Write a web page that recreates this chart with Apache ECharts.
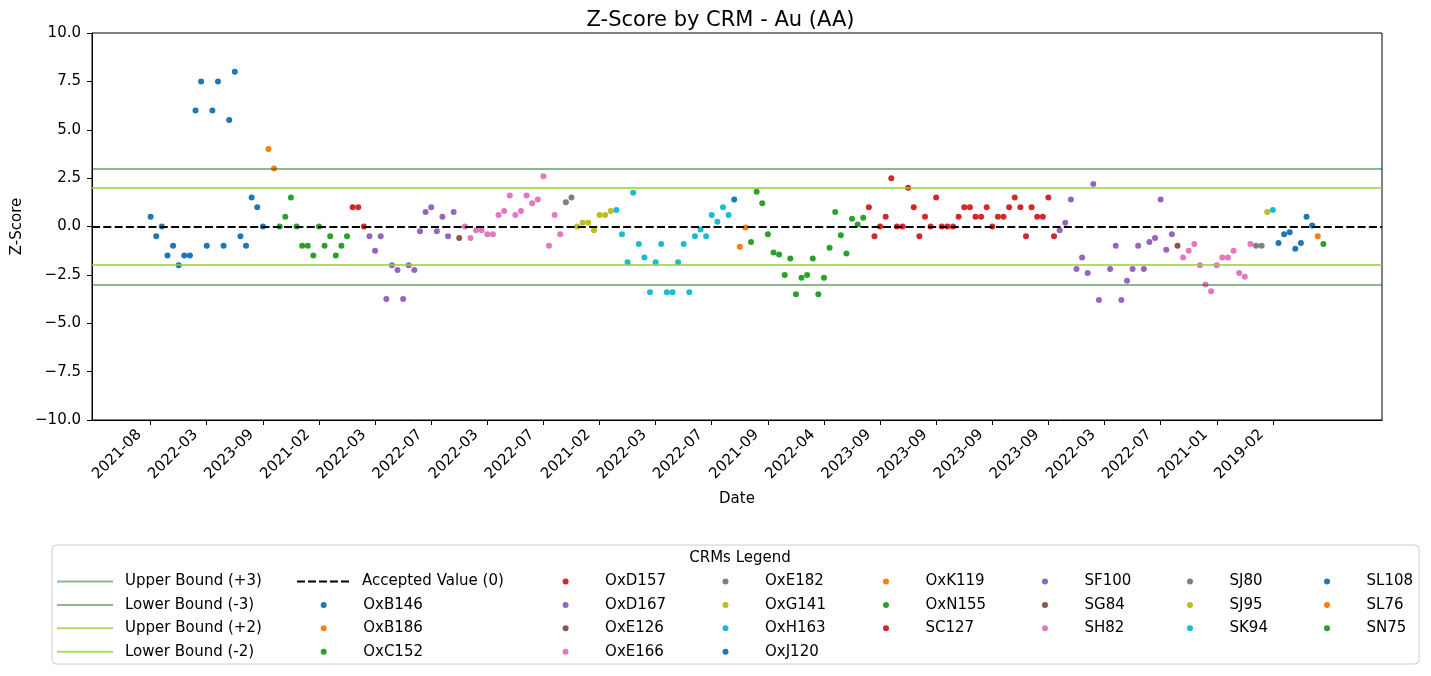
<!DOCTYPE html>
<html><head><meta charset="utf-8">
<script src="https://cdn.jsdelivr.net/npm/echarts@6/dist/echarts.min.js"></script>
<style>html,body{margin:0;padding:0;background:#fff}#c{width:1431px;height:676px}</style>
</head><body><div id="c"></div>
<script>
// ---- data ----
const crmNames = ['OxB146','OxB186','OxC152','OxD157','OxD167','OxE126','OxE166','OxE182','OxG141','OxH163',
  'OxJ120','OxK119','OxN155','SC127','SF100','SG84','SH82','SJ80','SJ95','SK94','SL108','SL76','SN75'];
const crmCounts = [21,2,13,3,16,1,18,2,7,21,1,2,21,34,21,1,13,2,1,1,7,1,1];
const zScores = [
  // OxB146
  0.5,-0.5,0,-1.5,-1.0,-2.0,-1.5,-1.5,6.0,7.5,-1.0,6.0,7.5,-1.0,5.5,8.0,-0.5,-1.0,1.5,1.0,0,
  // OxB186
  4.0,3.0,
  // OxC152
  0,0.5,1.5,0,-1.0,-1.0,-1.5,0,-1.0,-0.5,-1.5,-1.0,-0.5,
  // OxD157
  1.0,1.0,0,
  // OxD167
  -0.5,-1.25,-0.5,-3.75,-2.0,-2.25,-3.75,-2.0,-2.25,-0.25,0.75,1.0,-0.25,0.5,-0.5,0.75,
  // OxE126
  -0.6,
  // OxE166
  0,-0.6,-0.2,-0.2,-0.4,-0.4,0.6,0.8,1.6,0.6,0.8,1.6,1.2,1.4,2.6,-1.0,0.6,-0.4,
  // OxE182
  1.25,1.5,
  // OxG141
  0,0.2,0.2,-0.2,0.6,0.6,0.8,
  // OxH163
  0.85,-0.4,-1.85,1.75,-0.9,-1.6,-3.4,-1.85,-0.9,-3.4,-3.4,-1.85,-0.9,-3.4,-0.5,-0.15,-0.5,0.6,0.25,1.0,0.6,
  // OxJ120
  1.4,
  // OxK119
  -1.05,-0.05,
  // OxN155
  -0.8,1.8,1.2,-0.4,-1.35,-1.45,-2.5,-1.65,-3.5,-2.65,-2.5,-1.65,-3.5,-2.65,-1.1,0.75,-0.45,-1.4,0.4,0.1,0.45,
  // SC127
  1.0,-0.5,0,0.5,2.5,0,0,2.0,1.0,-0.5,0.5,0,1.5,0,0,0,0.5,1.0,1.0,0.5,0.5,1.0,0,0.5,0.5,1.0,1.5,1.0,-0.5,1.0,0.5,0.5,1.5,-0.5,
  // SF100
  -0.2,0.2,1.4,-2.2,-1.6,-2.4,2.2,-3.8,null,-2.2,-1.0,-3.8,-2.8,-2.2,-1.0,-2.2,-0.8,-0.6,1.4,-1.2,-0.4,
  // SG84
  -1.0,
  // SH82
  -1.6,-1.25,-0.9,-2.0,-3.0,-3.35,-2.0,-1.6,-1.6,-1.25,-2.4,-2.6,-0.9,
  // SJ80
  -1.0,-1.0,
  // SJ95
  0.75,
  // SK94
  0.85,
  // SL108
  -0.85,-0.4,-0.3,-1.15,-0.85,0.5,0.05,
  // SL76
  -0.5,
  // SN75
  -0.9
];
const tickLabels = ['2021-08','2022-03','2023-09','2021-02','2022-03','2022-07','2022-03','2022-07','2021-02','2022-03',
  '2022-07','2021-09','2022-04','2023-09','2023-09','2023-09','2023-09','2022-03','2022-07','2021-01','2019-02'];
const tickStep = 10;
const refNames = ['Upper Bound (+3)','Lower Bound (-3)','Upper Bound (+2)','Lower Bound (-2)','Accepted Value (0)'];
const refValues = [3,-3,2,-2,0];

// ---- styles ----
const FONT = 'DejaVu Sans';
const tab10 = ['#1f77b4','#ff7f0e','#2ca02c','#d62728','#9467bd','#8c564b','#e377c2','#7f7f7f','#bcbd22','#17becf'];
const refStyles = [
  {color:'rgba(0,100,0,0.45)', type:'solid', width:2},
  {color:'rgba(0,100,0,0.45)', type:'solid', width:2},
  {color:'rgba(154,205,50,0.75)', type:'solid', width:2},
  {color:'rgba(154,205,50,0.75)', type:'solid', width:2},
  {color:'#000000', type:[8,3.3], width:2}
];
const dashIcon = 'path://M0,0h8v2h-8zM11,0h8v2h-8zM22,0h8v2h-8zM33,0h8v2h-8zM44,0h8v2h-8z';

const n = zScores.length;
const pad = 0.05 * (n - 1);

const series = [];
let start = 0;
crmNames.forEach((name, k) => {
  const pts = [];
  for (let i = start; i < start + crmCounts[k]; i++) {
    if (zScores[i] !== null) pts.push([i, zScores[i]]);
  }
  start += crmCounts[k];
  series.push({
    name, type:'scatter', data: pts, symbol:'circle', symbolSize:6, z:2,
    itemStyle:{color: tab10[k % 10], opacity:1},
    emphasis:{disabled:true}, animation:false
  });
});
refNames.forEach((name, k) => {
  series.push({
    name, type:'line', data:[], symbol:'none', z:5,
    lineStyle: refStyles[k], itemStyle:{color: refStyles[k].color},
    markLine:{silent:true, symbol:['none','none'], label:{show:false}, animation:false,
      lineStyle: refStyles[k], emphasis:{disabled:true},
      data:[{yAxis: refValues[k]}]},
    animation:false
  });
});

const rowTop = 573.5, rowPitch = 23.4, itemH = 16;
function legendCol(names, left, top, iconW, iconH, textPad, icon) {
  return {
    orient:'vertical', left, top, padding:0, itemGap: rowPitch - itemH,
    itemWidth: iconW, itemHeight: iconH, selectedMode:false,
    data: names.map(nm => icon ? {name: nm, icon} : {name: nm}),
    textStyle:{fontFamily:FONT, fontSize:15, color:'#000', lineHeight:itemH, height:itemH, padding:[0,0,0,textPad]}
  };
}
const mk = (cx) => cx - 3;
const legends = [
  legendCol(refNames.slice(0,4), 57, rowTop, 56, 2, 7, 'rect'),
  legendCol([refNames[4]], 297, rowTop, 52, 2, 8, dashIcon),
  legendCol(crmNames.slice(0,3), mk(323.7), rowTop + rowPitch, 6, 6, 31.5),
  legendCol(crmNames.slice(3,7), mk(565.6), rowTop, 6, 6, 31.5),
  legendCol(crmNames.slice(7,11), mk(725.5), rowTop, 6, 6, 31.5),
  legendCol(crmNames.slice(11,14), mk(886), rowTop, 6, 6, 31.5),
  legendCol(crmNames.slice(14,17), mk(1045), rowTop, 6, 6, 31.5),
  legendCol(crmNames.slice(17,20), mk(1190), rowTop, 6, 6, 31.5),
  legendCol(crmNames.slice(20,23), mk(1327), rowTop, 6, 6, 31.5)
];

const tickVals = tickLabels.map((_, i) => i * tickStep);
const fmtY = v => (v < 0 ? '\u2212' : '') + Math.abs(v).toFixed(1);

const chart = echarts.init(document.getElementById('c'), null, {renderer:'canvas'});
chart.setOption({
  backgroundColor:'#fff',
  animation:false,
  title:[
    {text:'Z-Score by CRM - Au (AA)', left:715.5, top:5, textAlign:'center',
      textStyle:{fontFamily:FONT, fontSize:21, fontWeight:'normal', color:'#000'}},
    {text:'CRMs Legend', left:735, top:546, textAlign:'center',
      textStyle:{fontFamily:FONT, fontSize:15, fontWeight:'normal', color:'#000'}}
  ],
  graphic:[{type:'rect', shape:{x:52, y:545, width:1367, height:119, r:4}, z:0,
    style:{fill:'#fff', stroke:'#cccccc', lineWidth:1}}],
  grid:{left:92, top:33, width:1290, height:387, show:true, borderColor:'#000', borderWidth:1, containLabel:false},
  xAxis:{
    type:'value', min:-pad, max:(n - 1) + pad,
    name:'Date', nameLocation:'middle', nameGap:72,
    nameTextStyle:{fontFamily:FONT, fontSize:15, color:'#000'},
    axisLine:{show:true, onZero:false, lineStyle:{color:'#000', width:1}},
    axisTick:{show:true, length:5, lineStyle:{color:'#000'}, customValues: tickVals},
    axisLabel:{show:true, rotate:45, margin:1, padding:[0,16,0,0], fontFamily:FONT, fontSize:15, color:'#000',
      customValues: tickVals, formatter: v => tickLabels[Math.round(v / tickStep)] || ''},
    splitLine:{show:false}
  },
  yAxis:{
    type:'value', min:-10, max:10, interval:2.5,
    name:'Z-Score', nameLocation:'middle', nameGap:62,
    nameTextStyle:{fontFamily:FONT, fontSize:15, color:'#000'},
    axisLine:{show:true, onZero:false, lineStyle:{color:'#000', width:1}},
    axisTick:{show:true, length:5, lineStyle:{color:'#000'}},
    axisLabel:{fontFamily:FONT, fontSize:15, color:'#000', margin:11, formatter: fmtY},
    splitLine:{show:false}
  },
  legend: legends,
  series
});
</script></body></html>
